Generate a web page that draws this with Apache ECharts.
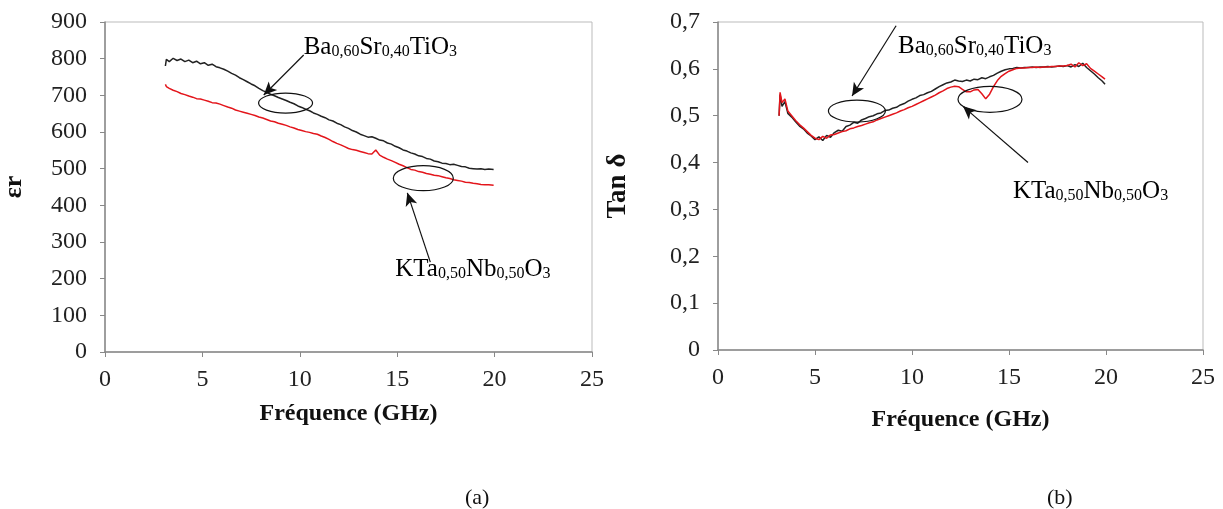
<!DOCTYPE html>
<html><head><meta charset="utf-8">
<script src="https://cdn.jsdelivr.net/npm/echarts@6/dist/echarts.min.js"></script>
<style>html,body{margin:0;padding:0;background:#fff}#c{width:1223px;height:509px}</style>
</head><body><div id="c"></div>
<script>
// ---------- data ----------
const epsFreq = [3.1,3.15,3.3,3.5,3.7,3.9,4.1,4.3,4.5,4.7,
  4.9,5.1,5.3,5.5,5.7,5.9,6.1,6.3,6.5,6.7,
  6.9,7.1,7.3,7.5,7.7,7.9,8.1,8.3,8.5,8.7,
  8.9,9.1,9.3,9.5,9.7,9.9,10.1,10.3,10.5,10.7,
  10.9,11.1,11.3,11.5,11.7,11.9,12.1,12.3,12.5,12.7,
  12.9,13.1,13.3,13.5,13.7,13.9,14.1,14.3,14.5,14.7,
  14.9,15.1,15.3,15.5,15.7,15.9,16.1,16.3,16.5,16.7,
  16.9,17.1,17.3,17.5,17.7,17.9,18.1,18.3,18.5,18.7,
  18.9,19.1,19.3,19.5,19.7,19.95];
const epsBa = [780,798,792,801,795,799,792,796,789,793,
  786,789,782,785,778,775,771,766,760,755,
  748,743,737,731,726,719,713,708,703,699,
  694,690,686,681,677,671,667,662,658,652,
  648,643,639,633,630,624,620,614,610,604,
  600,594,590,586,587,583,578,576,570,567,
  561,557,551,548,543,540,535,533,528,526,
  521,519,515,514,511,512,509,506,505,501,
  500,499,500,498,499,498];
const epsKtn = [730,724,719,714,710,705,702,698,695,691,
  690,687,684,680,679,676,672,668,665,660,
  657,654,651,648,645,641,638,634,630,628,
  624,621,618,614,611,607,604,601,599,596,
  594,589,585,580,574,569,565,560,555,552,
  550,547,544,541,540,551,537,531,526,522,
  517,512,508,503,498,496,492,490,487,485,
  482,481,478,475,473,470,468,466,463,462,
  460,459,457,456,456,455];

const tanFreq = [3.15,3.2,3.3,3.45,3.6,
  3.8,4.0,4.2,4.4,4.6,4.8,5.0,5.2,5.4,5.6,5.8,
  6.0,6.2,6.4,6.6,6.8,7.0,7.2,7.4,7.6,7.8,
  8.0,8.2,8.4,8.6,8.8,9.0,9.2,9.4,9.6,9.8,
  10.0,10.2,10.4,10.6,10.8,11.0,11.2,11.4,11.6,11.8,
  12.0,12.2,12.4,12.6,12.8,13.0,13.2,13.4,13.6,13.8,
  14.0,14.2,14.4,14.6,14.8,15.0,15.2,15.4,15.6,15.8,
  16.0,16.2,16.4,16.6,16.8,17.0,17.2,17.4,17.6,17.8,
  18.0,18.2,18.4,18.6,18.8,19.0,19.2,19.4,19.6,19.8,19.95];
const tanBa = [0.50,0.545,0.52,0.53,0.505,
  0.497,0.487,0.478,0.472,0.463,0.457,0.449,0.455,0.447,0.458,0.454,
  0.464,0.469,0.467,0.477,0.48,0.486,0.484,0.491,0.494,0.498,
  0.5,0.504,0.506,0.511,0.512,0.516,0.518,0.523,0.526,0.531,
  0.535,0.538,0.543,0.545,0.549,0.552,0.557,0.562,0.566,0.57,
  0.572,0.576,0.574,0.573,0.576,0.574,0.578,0.577,0.581,0.579,
  0.583,0.586,0.591,0.595,0.598,0.6,0.601,0.603,0.602,0.603,
  0.603,0.604,0.603,0.604,0.604,0.605,0.604,0.605,0.606,0.605,
  0.607,0.604,0.609,0.605,0.612,0.603,0.596,0.589,0.581,0.574,0.567];
const tanKtn = [0.50,0.55,0.528,0.536,0.51,
  0.5,0.49,0.481,0.474,0.466,0.458,0.452,0.449,0.456,0.452,0.459,
  0.46,0.463,0.466,0.468,0.472,0.474,0.477,0.479,0.482,0.485,
  0.487,0.491,0.494,0.497,0.5,0.503,0.506,0.51,0.513,0.517,
  0.52,0.524,0.528,0.532,0.536,0.54,0.544,0.549,0.553,0.558,
  0.561,0.563,0.562,0.556,0.551,0.551,0.555,0.556,0.547,0.536,
  0.546,0.562,0.575,0.584,0.59,0.595,0.598,0.601,0.602,0.602,
  0.603,0.603,0.604,0.603,0.604,0.604,0.605,0.605,0.606,0.606,
  0.607,0.61,0.604,0.613,0.607,0.611,0.601,0.595,0.589,0.583,0.578];

const xTickInterval = 5;
const epsAxis = {min: 0, max: 900, interval: 100};
const tanAxis = {min: 0, max: 0.7, interval: 0.1};

// annotation anchors (data coordinates)
const epsLabels = [
  {at: [10.2, 837], text: '{b|Ba}{s|0,60}{b|Sr}{s|0,40}{b|TiO}{s|3}'},
  {at: [14.9, 232], text: '{b|KTa}{s|0,50}{b|Nb}{s|0,50}{b|O}{s|3}'}
];
const epsEllipses = [{at: [9.27, 679], rx: 27, ry: 10}, {at: [16.34, 474], rx: 30, ry: 12.5}];
const epsArrows = [[[10.2, 810], [8.15, 701]], [[16.7, 245], [15.52, 434]]];

const tanLabels = [
  {at: [9.28, 0.653], text: '{b|Ba}{s|0,60}{b|Sr}{s|0,40}{b|TiO}{s|3}'},
  {at: [15.2, 0.343], text: '{b|KTa}{s|0,50}{b|Nb}{s|0,50}{b|O}{s|3}'}
];
const tanEllipses = [{at: [7.16, 0.51], rx: 28.5, ry: 11}, {at: [14.02, 0.535], rx: 32, ry: 13}];
const tanArrows = [[[9.18, 0.692], [6.91, 0.542]], [[15.98, 0.400], [12.63, 0.520]]];

// ---------- chart ----------
const FONT = "'Liberation Serif', 'Times New Roman', serif";
const zip = (xs, ys) => ys.map((y, i) => [xs[i], y]);
const rich = {
  b: {fontFamily: FONT, fontSize: 25, lineHeight: 30, color: '#1a1a1a', verticalAlign: 'bottom'},
  s: {fontFamily: FONT, fontSize: 16, lineHeight: 12, color: '#1a1a1a', verticalAlign: 'bottom'}
};

function xAxisCfg(gi, gap) {
  return {
    gridIndex: gi, type: 'value', min: 0, max: 25, interval: xTickInterval,
    axisLine: {lineStyle: {color: '#888', width: 1.5}},
    axisTick: {show: true, length: 5, lineStyle: {color: '#888'}},
    axisLabel: {fontFamily: FONT, fontSize: 24, color: '#222', margin: 16},
    splitLine: {show: false},
    name: 'Fréquence (GHz)', nameLocation: 'middle', nameGap: gap,
    nameTextStyle: {fontFamily: FONT, fontWeight: 'bold', fontSize: 24, color: '#111'}
  };
}
function yAxisCfg(gi, ax, name, gap, size, fmt) {
  return {
    gridIndex: gi, type: 'value', min: ax.min, max: ax.max, interval: ax.interval,
    axisLine: {show: true, lineStyle: {color: '#888', width: 1.5}},
    axisTick: {show: true, length: 5, lineStyle: {color: '#888'}},
    axisLabel: {fontFamily: FONT, fontSize: 24, color: '#222', margin: 18, formatter: fmt},
    splitLine: {show: false},
    name: name, nameLocation: 'middle', nameGap: gap, nameRotate: 90,
    nameTextStyle: {fontFamily: FONT, fontWeight: 'bold', fontSize: size, color: '#111'}
  };
}
function lineSeries(gi, data, color, arrows) {
  const s = {
    type: 'line', xAxisIndex: gi, yAxisIndex: gi, data: data, showSymbol: false,
    lineStyle: {color: color, width: 1.5}, itemStyle: {color: color},
    silent: true, animation: false
  };
  if (arrows) {
    s.markLine = {
      silent: true, animation: false, symbol: ['none', 'arrow'], symbolSize: [9, 13],
      label: {show: false},
      lineStyle: {color: '#111', width: 1.2, type: 'solid'},
      emphasis: {disabled: true},
      data: arrows.map(a => [{coord: a[0]}, {coord: a[1]}])
    };
  }
  return s;
}
function annotSeries(gi, ellipses, labels) {
  const items = ellipses.map(e => ({kind: 'e', e: e})).concat(labels.map(l => ({kind: 't', l: l})));
  return {
    type: 'custom', xAxisIndex: gi, yAxisIndex: gi, silent: true, animation: false, z: 5, clip: false,
    data: items.map(it => it.kind === 'e' ? it.e.at : it.l.at),
    renderItem: function (params, api) {
      const it = items[params.dataIndex];
      const p = api.coord([api.value(0), api.value(1)]);
      if (it.kind === 'e') {
        return {type: 'ellipse', shape: {cx: p[0], cy: p[1], rx: it.e.rx, ry: it.e.ry},
          style: {fill: 'none', stroke: '#111', lineWidth: 1.2}};
      }
      return {type: 'text', x: p[0], y: p[1],
        style: {text: it.l.text, rich: rich, align: 'left', verticalAlign: 'middle'}};
    }
  };
}

const chart = echarts.init(document.getElementById('c'), null, {renderer: 'canvas'});
chart.setOption({
  animation: false,
  backgroundColor: '#fff',
  title: [
    {text: '(a)', left: 460, top: 482, textStyle: {fontFamily: FONT, fontSize: 22, fontWeight: 'normal', color: '#111'}},
    {text: '(b)', left: 1042, top: 482, textStyle: {fontFamily: FONT, fontSize: 22, fontWeight: 'normal', color: '#111'}}
  ],
  grid: [
    {left: 104, right: 631, top: 22, bottom: 157, show: true, borderColor: '#bbb', borderWidth: 1},
    {left: 718, right: 20, top: 22, bottom: 159, show: true, borderColor: '#bbb', borderWidth: 1}
  ],
  xAxis: [xAxisCfg(0, 50), xAxisCfg(1, 58)],
  yAxis: [
    yAxisCfg(0, epsAxis, 'εr', 78, 26, v => String(v)),
    yAxisCfg(1, tanAxis, 'Tan δ', 86, 27, v => v === 0 ? '0' : v.toFixed(1).replace('.', ','))
  ],
  series: [
    lineSeries(0, zip(epsFreq, epsBa), '#222', epsArrows),
    lineSeries(0, zip(epsFreq, epsKtn), '#e3151b', null),
    annotSeries(0, epsEllipses, epsLabels),
    lineSeries(1, zip(tanFreq, tanBa), '#222', tanArrows),
    lineSeries(1, zip(tanFreq, tanKtn), '#e3151b', null),
    annotSeries(1, tanEllipses, tanLabels)
  ]
});
</script>
</body></html>
